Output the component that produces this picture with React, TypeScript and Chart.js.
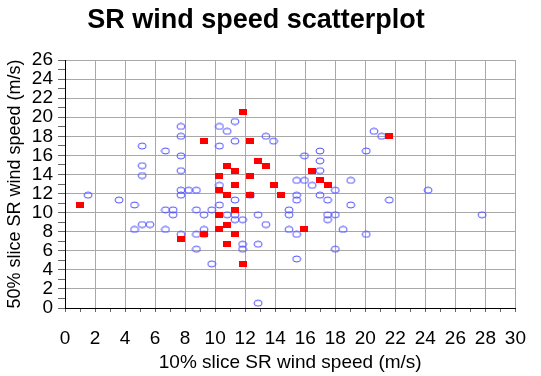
import React, { useEffect, useRef } from 'react';
import { Chart, registerables } from 'chart.js';

Chart.register(...registerables);

const TITLE = 'SR wind speed scatterplot';
const X_TITLE = '10% slice SR wind speed (m/s)';
const Y_TITLE = '50% slice SR wind speed (m/s)';

// Open blue ellipses
const circleX = [
  7.72, 7.72, 5.14, 6.69, 7.72, 5.14, 7.72, 5.14, 11.32, 10.29,
  10.8, 11.32, 13.38, 13.89, 10.29, 15.95, 16.98, 16.98, 16.98, 15.43,
  15.95, 19.03, 20.58, 21.09, 20.06, 1.54, 3.6, 4.63, 7.72, 8.23,
  8.75, 7.72, 6.69, 7.2, 7.2, 8.75, 9.26, 9.77, 4.63, 5.14,
  5.66, 6.69, 7.72, 8.75, 9.26, 8.75, 9.77, 10.29, 16.46, 18.0,
  11.32, 15.43, 15.43, 16.98, 17.49, 19.03, 10.29, 10.8, 11.32, 11.32,
  11.83, 12.86, 13.38, 14.92, 14.92, 17.49, 18.0, 17.49, 14.92, 15.43,
  18.52, 11.83, 11.83, 12.86, 18.0, 15.43, 12.86, 20.06, 21.6, 24.18,
  27.78, 12.35, 9.26,
];
const circleY = [
  19.03, 18.0, 16.98, 16.46, 15.95, 14.92, 14.4, 13.89, 19.55, 19.03,
  18.52, 17.49, 18.0, 17.49, 16.98, 15.95, 16.46, 15.43, 14.4, 13.38,
  13.38, 13.38, 18.52, 18.0, 16.46, 11.83, 11.32, 10.8, 12.35, 12.35,
  12.35, 11.83, 10.29, 10.29, 9.77, 10.29, 9.77, 10.29, 8.23, 8.75,
  8.75, 8.23, 7.72, 7.72, 8.23, 6.17, 4.63, 12.86, 12.86, 12.35,
  11.32, 11.83, 11.32, 11.83, 11.32, 10.8, 10.8, 9.77, 9.77, 9.26,
  9.26, 9.77, 8.75, 10.29, 9.77, 9.77, 9.77, 9.26, 8.23, 7.72,
  8.23, 6.69, 6.17, 6.69, 6.17, 5.14, 0.51, 7.72, 11.32, 12.35,
  9.77, 11.83, 7.72,
];

// Filled red squares
const squareX = [
  1.03, 7.72, 9.26, 9.26, 11.83, 12.35, 12.86, 13.38, 10.8, 11.32,
  16.46, 10.29, 12.35, 16.98, 17.49, 21.6, 10.29, 11.32, 13.89, 10.8,
  12.35, 14.4, 11.32, 10.29, 10.8, 10.29, 11.32, 15.95, 10.8, 11.83,
];
const squareY = [
  10.8, 7.2, 7.72, 17.49, 20.58, 17.49, 15.43, 14.92, 14.92, 14.4,
  14.4, 13.89, 13.89, 13.38, 12.86, 18.0, 12.35, 12.86, 12.86, 11.83,
  11.83, 11.83, 10.29, 9.77, 8.75, 8.23, 7.72, 8.23, 6.69, 4.63,
];

const FONT = '"Liberation Sans", Arial, Helvetica, sans-serif';

function makeEllipse(): HTMLCanvasElement {
  const c = document.createElement('canvas');
  c.width = 10;
  c.height = 8;
  const g = c.getContext('2d')!;
  g.strokeStyle = '#5050ff';
  g.lineWidth = 1;
  g.beginPath();
  g.ellipse(5, 4, 4, 3, 0, 0, Math.PI * 2);
  g.stroke();
  return c;
}

function makeSquare(): HTMLCanvasElement {
  const c = document.createElement('canvas');
  c.width = 8;
  c.height = 6;
  const g = c.getContext('2d')!;
  g.fillStyle = '#ff0000';
  g.fillRect(0, 0, 8, 6);
  return c;
}

const titlePlugin = {
  id: 'customTitle',
  afterDraw(chart: any) {
    const ctx = chart.ctx;
    ctx.save();
    ctx.font = `bold 27px ${FONT}`;
    ctx.fillStyle = '#000';
    ctx.textAlign = 'center';
    ctx.textBaseline = 'alphabetic';
    ctx.fillText(TITLE, 256, 28);
    ctx.restore();
  },
};

export default function App() {
  const ref = useRef<HTMLCanvasElement>(null);

  useEffect(() => {
    const circles = circleX.map((x, i) => ({ x, y: circleY[i] }));
    const squares = squareX.map((x, i) => ({ x, y: squareY[i] }));
    const ellipseImg = makeEllipse();
    const squareImg = makeSquare();
    const gridColor = (c: any) =>
      c.tick && Math.round(c.tick.value) % 2 === 0 ? '#a8a8a8' : 'rgba(0,0,0,0)';
    const evenLabel = (v: any) => (Math.round(v) % 2 === 0 ? String(v) : '');

    const chart = new Chart(ref.current!, {
      type: 'scatter',
      data: {
        datasets: [
          {
            label: 'squares',
            data: squares,
            pointStyle: squareImg as any,
            order: 0,
          },
          {
            label: 'circles',
            data: circles,
            pointStyle: ellipseImg as any,
            order: 1,
          },
        ],
      },
      options: {
        responsive: false,
        animation: false,
        devicePixelRatio: 1,
        layout: { padding: { top: 60, right: 20, bottom: 0, left: 0 } },
        plugins: {
          legend: { display: false },
          tooltip: { enabled: false },
          title: { display: false },
        },
        scales: {
          x: {
            type: 'linear',
            min: 0,
            max: 30,
            afterFit(s: any) {
              s.height = 68;
            },
            ticks: {
              stepSize: 1,
              autoSkip: false,
              maxRotation: 0,
              color: '#000',
              font: { family: FONT, size: 19 },
              padding: 15,
              callback: evenLabel,
            },
            grid: {
              color: gridColor,
              tickColor: '#666',
              tickLength: 4,
              lineWidth: 1,
            },
            border: { color: '#000', width: 1 },
            title: {
              display: true,
              text: X_TITLE,
              color: '#000',
              font: { family: FONT, size: 19 },
              padding: { top: 0, bottom: 2 },
            },
          },
          y: {
            type: 'linear',
            min: 0,
            max: 26,
            afterFit(s: any) {
              s.width = 65;
            },
            ticks: {
              stepSize: 1,
              autoSkip: false,
              color: '#000',
              font: { family: FONT, size: 19 },
              padding: 5,
              callback: evenLabel,
            },
            grid: {
              color: gridColor,
              tickColor: '#666',
              tickLength: 7,
              lineWidth: 1,
            },
            border: { color: '#000', width: 1 },
            title: {
              display: true,
              text: Y_TITLE,
              color: '#000',
              font: { family: FONT, size: 18 },
              padding: { top: 4, bottom: 0 },
            },
          },
        },
      },
      plugins: [titlePlugin],
    });
    return () => chart.destroy();
  }, []);

  return (
    <div
      style={{
        position: 'absolute',
        left: 0,
        top: 0,
        width: 541,
        height: 376,
        background: '#fff',
      }}
    >
      <canvas
        ref={ref}
        width={541}
        height={376}
        style={{ display: 'block', width: 541, height: 376 }}
      />
    </div>
  );
}
